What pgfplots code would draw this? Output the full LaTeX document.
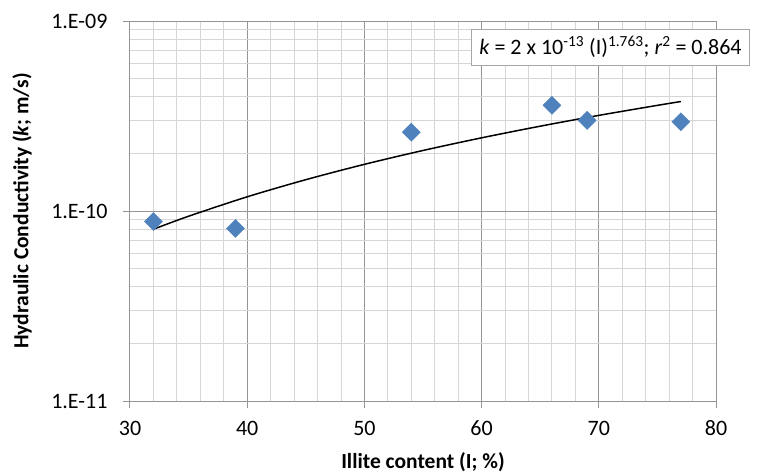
\documentclass[border=0pt]{standalone}
\usepackage{pgfplots}
\pgfplotsset{compat=1.18}
\usepackage{fontspec}
\setmainfont{Carlito}
\definecolor{ptblue}{RGB}{79,129,189}
\begin{document}
\begin{tikzpicture}
\useasboundingbox (-130pt,-72pt) rectangle (637pt,401pt);
\fontsize{22}{26}\selectfont
\begin{axis}[
  at={(0pt,0pt)}, anchor=south west,
  scale only axis, width=586pt, height=380pt,
  xmin=30, xmax=80, ymin=1e-11, ymax=1e-9, ymode=log, log basis y=10,
  xtick={30,40,50,60,70,80}, xticklabels={30,40,50,60,70,80},
  minor x tick num=4,
  ytick={1e-11,1e-10,1e-9}, yticklabels={1.E-11,1.E-10,1.E-09},
  minor ytick={2e-11,3e-11,4e-11,5e-11,6e-11,7e-11,8e-11,9e-11,2e-10,3e-10,4e-10,5e-10,6e-10,7e-10,8e-10,9e-10},
  grid=both,
  major grid style={draw=black!42, line width=1pt},
  minor grid style={draw=black!16, line width=0.9pt},
  axis lines*=left,
  axis line style={draw=black!42, line width=1pt},
  tick align=outside, tick pos=left,
  major tick length=7pt, minor tick length=0pt,
  major tick style={draw=black!42, line width=1pt},
  xlabel={\fontsize{21.5}{25}\selectfont\bfseries Illite content (I; \%)},
  ylabel={\fontsize{21.5}{25}\selectfont\bfseries Hydraulic Conductivity (\textit{k}; m/s)},
  xlabel style={at={(axis description cs:0.5,0)}, anchor=center, yshift=-61pt},
  ylabel style={at={(axis description cs:0,0.5)}, anchor=center, rotate=0, yshift=108pt},
  xticklabel style={anchor=center, yshift=-20pt},
  yticklabel style={anchor=east, xshift=-8pt},
  clip mode=individual,
]
\addplot[black, line width=1.5pt, smooth] coordinates {
(32,8.02e-11) (35,9.39e-11) (40,1.188e-10) (45,1.462e-10) (50,1.761e-10)
(55,2.083e-10) (60,2.428e-10) (65,2.796e-10) (70,3.187e-10) (75,3.599e-10) (77,3.770e-10)};
\addplot[only marks, mark=square*, mark size=6.4pt, mark options={rotate=45, fill=ptblue, draw=ptblue}] coordinates {
(32,8.8e-11) (39,8.1e-11) (54,2.6e-10) (66,3.6e-10) (69,3.0e-10) (77,2.95e-10)};
\node[draw=black!35, line width=0.9pt, fill=white, anchor=center, inner xsep=8pt, inner ysep=5pt,
  minimum width=273pt, minimum height=36pt] at (rel axis cs:0.8199,0.9316)
  {\textit{k} = 2 x 10\textsuperscript{-13} (I)\textsuperscript{1.763}; \textit{r}\textsuperscript{2} = 0.864};
\end{axis}
\end{tikzpicture}
\end{document}
